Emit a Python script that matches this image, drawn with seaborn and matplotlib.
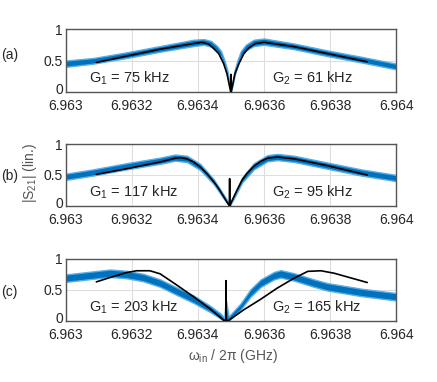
import matplotlib
matplotlib.use('Agg')
import matplotlib.pyplot as plt
import matplotlib.transforms as mtransforms
import seaborn as sns

# data (frequency in GHz, |S21| linear)
# panel (a): measured band (lower / upper edge of the noisy trace) and fit
freq_a = [6.963000, 6.963083, 6.963184, 6.963286, 6.963387, 6.963418, 6.963440,
          6.963458, 6.963470, 6.963480, 6.963489, 6.963495, 6.963500, 6.963505,
          6.963511, 6.963520, 6.963530, 6.963545, 6.963569, 6.963600, 6.963691,
          6.963792, 6.963894, 6.964000]
lo_a = [0.40, 0.45, 0.54, 0.64, 0.73, 0.75, 0.72, 0.64, 0.56, 0.42, 0.26, 0.11, 0.00,
        0.11, 0.26, 0.42, 0.56, 0.66, 0.73, 0.75, 0.68, 0.57, 0.47, 0.36]
hi_a = [0.50, 0.54, 0.63, 0.73, 0.83, 0.84, 0.81, 0.73, 0.65, 0.51, 0.35, 0.17, 0.04,
        0.17, 0.35, 0.51, 0.65, 0.75, 0.83, 0.85, 0.77, 0.66, 0.56, 0.45]
fitf_a = [6.963093, 6.963184, 6.963286, 6.963387, 6.963412, 6.963433, 6.963448,
          6.963463, 6.963478, 6.963488, 6.963495, 6.9634995, 6.963500, 6.9635005,
          6.963505, 6.963512, 6.963524, 6.963539, 6.963554, 6.963574, 6.963600,
          6.963691, 6.963792, 6.963912]
fitv_a = [0.47, 0.57, 0.68, 0.77, 0.79, 0.76, 0.69, 0.61, 0.45, 0.29, 0.11, 0.00, 0.28,
          0.00, 0.11, 0.29, 0.45, 0.61, 0.70, 0.77, 0.79, 0.72, 0.61, 0.48]

# panel (b)
freq_b = [6.963000, 6.963083, 6.963184, 6.963286, 6.963331, 6.963367, 6.963407,
          6.963448, 6.963478, 6.963496, 6.963509, 6.963534, 6.963569, 6.963610,
          6.963640, 6.963691, 6.963792, 6.963894, 6.964000]
lo_b = [0.42, 0.49, 0.59, 0.68, 0.73, 0.71, 0.58, 0.35, 0.12, 0.00, 0.12, 0.38, 0.59,
        0.72, 0.74, 0.71, 0.60, 0.49, 0.40]
hi_b = [0.52, 0.59, 0.69, 0.78, 0.83, 0.81, 0.68, 0.43, 0.18, 0.03, 0.18, 0.46, 0.69,
        0.82, 0.84, 0.81, 0.70, 0.59, 0.50]
fitf_b = [6.963093, 6.963184, 6.963286, 6.963331, 6.963347, 6.963367, 6.963387,
          6.963407, 6.963428, 6.963448, 6.963463, 6.963478, 6.963488, 6.9634955,
          6.963496, 6.9634965, 6.963503, 6.963518, 6.963534, 6.963549, 6.963569,
          6.963590, 6.963610, 6.963640, 6.963691, 6.963792, 6.963912]
fitv_b = [0.51, 0.60, 0.71, 0.77, 0.78, 0.76, 0.71, 0.63, 0.52, 0.39, 0.28, 0.15, 0.06,
          0.00, 0.44, 0.00, 0.08, 0.25, 0.42, 0.53, 0.64, 0.72, 0.77, 0.79, 0.76, 0.65,
          0.50]

# panel (c)
freq_c = [6.963000, 6.963083, 6.963134, 6.963184, 6.963235, 6.963286, 6.963336,
          6.963387, 6.963438, 6.963468, 6.963480, 6.963484, 6.963486, 6.963493,
          6.963529, 6.963559, 6.963590, 6.963630, 6.963650, 6.963691, 6.963751,
          6.963792, 6.963894, 6.964000]
lo_c = [0.63, 0.68, 0.71, 0.69, 0.64, 0.55, 0.42, 0.29, 0.14, 0.04, 0.00, 0.00, 0.00,
        0.00, 0.18, 0.39, 0.55, 0.67, 0.70, 0.65, 0.55, 0.49, 0.40, 0.33]
hi_c = [0.75, 0.80, 0.83, 0.81, 0.76, 0.67, 0.54, 0.41, 0.24, 0.12, 0.05, 0.35, 0.30,
        0.07, 0.28, 0.51, 0.67, 0.79, 0.82, 0.77, 0.67, 0.61, 0.52, 0.45]
fitf_c = [6.963093, 6.963134, 6.963184, 6.963215, 6.963255, 6.963286, 6.963336,
          6.963387, 6.963438, 6.963480, 6.9634845, 6.963485, 6.9634855, 6.963491,
          6.963539, 6.963590, 6.963640, 6.963691, 6.963732, 6.963772, 6.963812,
          6.963912]
fitv_c = [0.63, 0.70, 0.78, 0.81, 0.81, 0.76, 0.58, 0.39, 0.19, 0.00, 0.02, 0.65, 0.02,
          0.00, 0.18, 0.35, 0.53, 0.69, 0.80, 0.81, 0.77, 0.62]

panel_labels = ['(a)', '(b)', '(c)']
g1_texts = ['75 kHz', '117 kHz', '203 kHz']
g2_texts = ['61 kHz', '95 kHz', '165 kHz']
xticks = [6.963, 6.9632, 6.9634, 6.9636, 6.9638, 6.964]
xticklabels = ['6.963', '6.9632', '6.9634', '6.9636', '6.9638', '6.964']
yticks = [0, 0.5, 1]
yticklabels = ['0', '0.5', '1']

sns.set_style('white')
plt.rcParams['font.family'] = ['Liberation Sans', 'DejaVu Sans']
plt.rcParams['mathtext.fontset'] = 'custom'
plt.rcParams['mathtext.rm'] = 'Liberation Sans'
plt.rcParams['mathtext.it'] = 'Liberation Sans:italic'

fig = plt.figure(figsize=(4.37, 3.82), dpi=100)

panels = [
    (freq_a, lo_a, hi_a, fitf_a, fitv_a, [0.150, 0.759, 0.757, 0.165], 1 - 55 / 382),
    (freq_b, lo_b, hi_b, fitf_b, fitv_b, [0.150, 0.461, 0.757, 0.162], 1 - 176 / 382),
    (freq_c, lo_c, hi_c, fitf_c, fitv_c, [0.150, 0.160, 0.757, 0.162], 1 - 292 / 382),
]

dark = '#262626'
lift = mtransforms.ScaledTranslation(0, 2.5 / 72, fig.dpi_scale_trans)
for i, (fq, lo, hi, ff, fv, rect, ly) in enumerate(panels):
    ax = fig.add_axes(rect)
    ax.fill_between(fq, lo, hi, color='#0072BD', edgecolor='#5aaee6', lw=1.0, zorder=2)
    sns.lineplot(x=ff, y=fv, color='black', lw=1.2, ax=ax, errorbar=None, zorder=3)
    ax.set_xlim(6.963, 6.964)
    ax.set_ylim(0, 1)
    ax.set_xticks(xticks)
    ax.set_xticklabels(xticklabels)
    ax.set_yticks(yticks)
    ax.set_yticklabels(yticklabels)
    ax.grid(True, color='#dedede', lw=0.8, zorder=0)
    ax.set_axisbelow(True)
    for s in ax.spines.values():
        s.set_color('#555555')
        s.set_linewidth(1.0)
    ax.tick_params(direction='in', length=2.5, width=0.6, labelsize=10,
                   colors='#555555', labelcolor=dark)
    ax.tick_params(axis='x', pad=5)
    ax.tick_params(axis='y', pad=2)
    # the '0' sits a touch above the corner, as in the reference
    zero = ax.get_yticklabels()[0]
    zero.set_transform(zero.get_transform() + lift)
    ax.text(6.963072, 0.15, 'G$_\\mathrm{1}$ = ' + g1_texts[i], fontsize=10.5,
            color=dark, va='baseline', zorder=4)
    ax.text(6.963625, 0.15, 'G$_\\mathrm{2}$ = ' + g2_texts[i], fontsize=10.5,
            color=dark, va='baseline', zorder=4)
    fig.text(0.003, ly, panel_labels[i], fontsize=10, color=dark, va='center')

fig.text(0.068, 0.548, '|S$_\\mathrm{21}$| (lin.)', fontsize=10, color='#555555',
         rotation=90, ha='center', va='center')
fig.text(0.533, 0.068, 'ω$_\\mathrm{in}$ / 2π (GHz)', fontsize=10, color='#555555',
         ha='center', va='center')

fig.savefig('out.png', dpi=100)
